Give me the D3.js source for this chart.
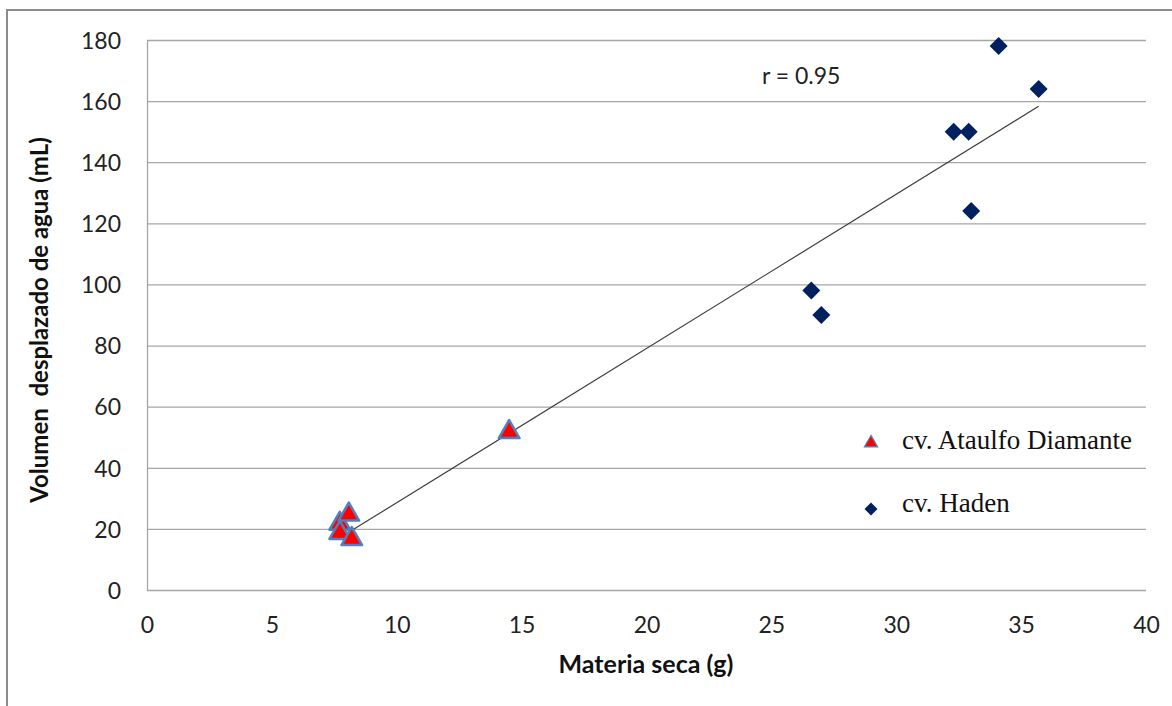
<!DOCTYPE html>
<html>
<head>
<meta charset="utf-8">
<script src="https://cdn.jsdelivr.net/npm/d3@7"></script>
<style>
  body { margin: 0; background: #fff; }
  svg { display: block; }
</style>
</head>
<body>
<svg id="chart" width="1172" height="706"></svg>
<script>
// cv. Ataulfo Diamante
const ataulfoX = [7.72, 7.72, 8.08, 8.2, 14.5];
const ataulfoY = [22, 19, 25, 17, 52];
// cv. Haden
const hadenX = [34.1, 35.7, 32.3, 32.9, 33.0, 26.6, 27.0];
const hadenY = [178, 164, 150, 150, 124, 98, 90];

const xTicks = [0, 5, 10, 15, 20, 25, 30, 35, 40];
const yTicks = [0, 20, 40, 60, 80, 100, 120, 140, 160, 180];
const seriesNames = ["cv. Ataulfo Diamante", "cv. Haden"];
const rLabel = "r = 0.95";

(function() {
var svg = d3.select("#chart"),
    width = +svg.attr("width"),
    height = +svg.attr("height");

var plotLeft = 147, plotRight = 1146, plotTop = 40, plotBottom = 590;
var tickFont = "Lato, 'Open Sans', sans-serif";

var x = d3.scaleLinear().domain([0, 40]).range([plotLeft, plotRight]);
var y = d3.scaleLinear().domain([0, 180]).range([plotBottom, plotTop]);

// outer frame (only left and top visible)
svg.append("path")
   .attr("d", "M7,708 L7,10 L1174,10")
   .attr("fill", "none")
   .attr("stroke", "#8c8c8c")
   .attr("stroke-width", 2);

// gridlines
svg.append("g").selectAll("line")
   .data(yTicks)
   .enter().append("line")
   .attr("x1", plotLeft).attr("x2", plotRight)
   .attr("y1", d => y(d) + 0.5).attr("y2", d => y(d) + 0.5)
   .attr("stroke", "#a6a6a6")
   .attr("stroke-width", 1.3);

// left axis line
svg.append("line")
   .attr("x1", plotLeft + 0.5).attr("x2", plotLeft + 0.5)
   .attr("y1", plotTop).attr("y2", plotBottom + 1)
   .attr("stroke", "#a6a6a6")
   .attr("stroke-width", 1.3);

// axes via d3 (labels only)
var yAxis = svg.append("g")
   .attr("transform", "translate(" + (plotLeft - 26) + ",0)")
   .call(d3.axisLeft(y).tickValues(yTicks).tickSize(0).tickPadding(0));
yAxis.select(".domain").remove();
yAxis.selectAll("text")
   .attr("font-family", tickFont)
   .attr("font-size", "23px")
   .attr("fill", "#222")
   .attr("dy", "0.36em");

var xAxis = svg.append("g")
   .attr("transform", "translate(0," + (plotBottom + 26) + ")")
   .call(d3.axisBottom(x).tickValues(xTicks).tickSize(0).tickPadding(0));
xAxis.select(".domain").remove();
xAxis.selectAll("text")
   .attr("font-family", tickFont)
   .attr("font-size", "23px")
   .attr("fill", "#222")
   .attr("dy", "0.72em");

// axis titles
svg.append("text")
   .attr("x", 646)
   .attr("y", 673)
   .attr("text-anchor", "middle")
   .attr("font-family", tickFont)
   .attr("font-weight", "bold")
   .attr("font-size", "25px")
   .attr("fill", "#111")
   .text("Materia seca (g)");

svg.append("text")
   .attr("transform", "translate(48," + ((plotTop + plotBottom) / 2 + 5) + ") rotate(-90)")
   .attr("text-anchor", "middle")
   .attr("font-family", tickFont)
   .attr("font-weight", "bold")
   .attr("font-size", "24px")
   .attr("fill", "#111")
   .style("white-space", "pre")
   .text("Volumen  desplazado de agua (mL)");

// linear trendline over all points
var allX = ataulfoX.concat(hadenX),
    allY = ataulfoY.concat(hadenY);
var mx = d3.mean(allX), my = d3.mean(allY);
var sxy = d3.sum(allX, (v, i) => (v - mx) * (allY[i] - my));
var sxx = d3.sum(allX, v => (v - mx) * (v - mx));
var slope = sxy / sxx, intercept = my - slope * mx;
var xmin = d3.min(allX), xmax = d3.max(allX);

svg.append("line")
   .attr("x1", x(xmin)).attr("y1", y(intercept + slope * xmin))
   .attr("x2", x(xmax)).attr("y2", y(intercept + slope * xmax))
   .attr("stroke", "#404040")
   .attr("stroke-width", 1.2);

svg.append("text")
   .attr("x", 762)
   .attr("y", 84)
   .attr("font-family", tickFont)
   .attr("font-size", "23px")
   .attr("fill", "#222")
   .text(rLabel);

// markers
var triangle = d3.symbol().type(d3.symbolTriangle);
var diamondPath = function(s) {
  return "M0," + (-s) + "L" + s + ",0L0," + s + "L" + (-s) + ",0Z";
};

svg.append("g").selectAll("path")
   .data(hadenX.map((v, i) => [v, hadenY[i]]))
   .enter().append("path")
   .attr("transform", d => "translate(" + x(d[0]) + "," + y(d[1]) + ")")
   .attr("d", diamondPath(9))
   .attr("fill", "#002060");

svg.append("g").selectAll("path")
   .data(ataulfoX.map((v, i) => [v, ataulfoY[i]]))
   .enter().append("path")
   .attr("transform", d => "translate(" + x(d[0]) + "," + (y(d[1]) + 1) + ")")
   .attr("d", triangle.size(185)())
   .attr("fill", "#ff0000")
   .attr("stroke", "#4f81bd")
   .attr("stroke-width", 2.5)
   .attr("stroke-linejoin", "round");

// legend
var legend = svg.append("g");
legend.append("path")
   .attr("transform", "translate(871,443)")
   .attr("d", triangle.size(75)())
   .attr("fill", "#ff0000")
   .attr("stroke", "#4f81bd")
   .attr("stroke-width", 1.2);
legend.append("path")
   .attr("transform", "translate(871,509)")
   .attr("d", diamondPath(6.5))
   .attr("fill", "#002060");

legend.selectAll("text")
   .data(seriesNames)
   .enter().append("text")
   .attr("x", 902)
   .attr("y", (d, i) => 449 + i * 63)
   .attr("font-family", "'Liberation Serif', 'Times New Roman', serif")
   .attr("font-size", "27px")
   .attr("fill", "#111")
   .text(d => d);
})();
</script>
</body>
</html>
